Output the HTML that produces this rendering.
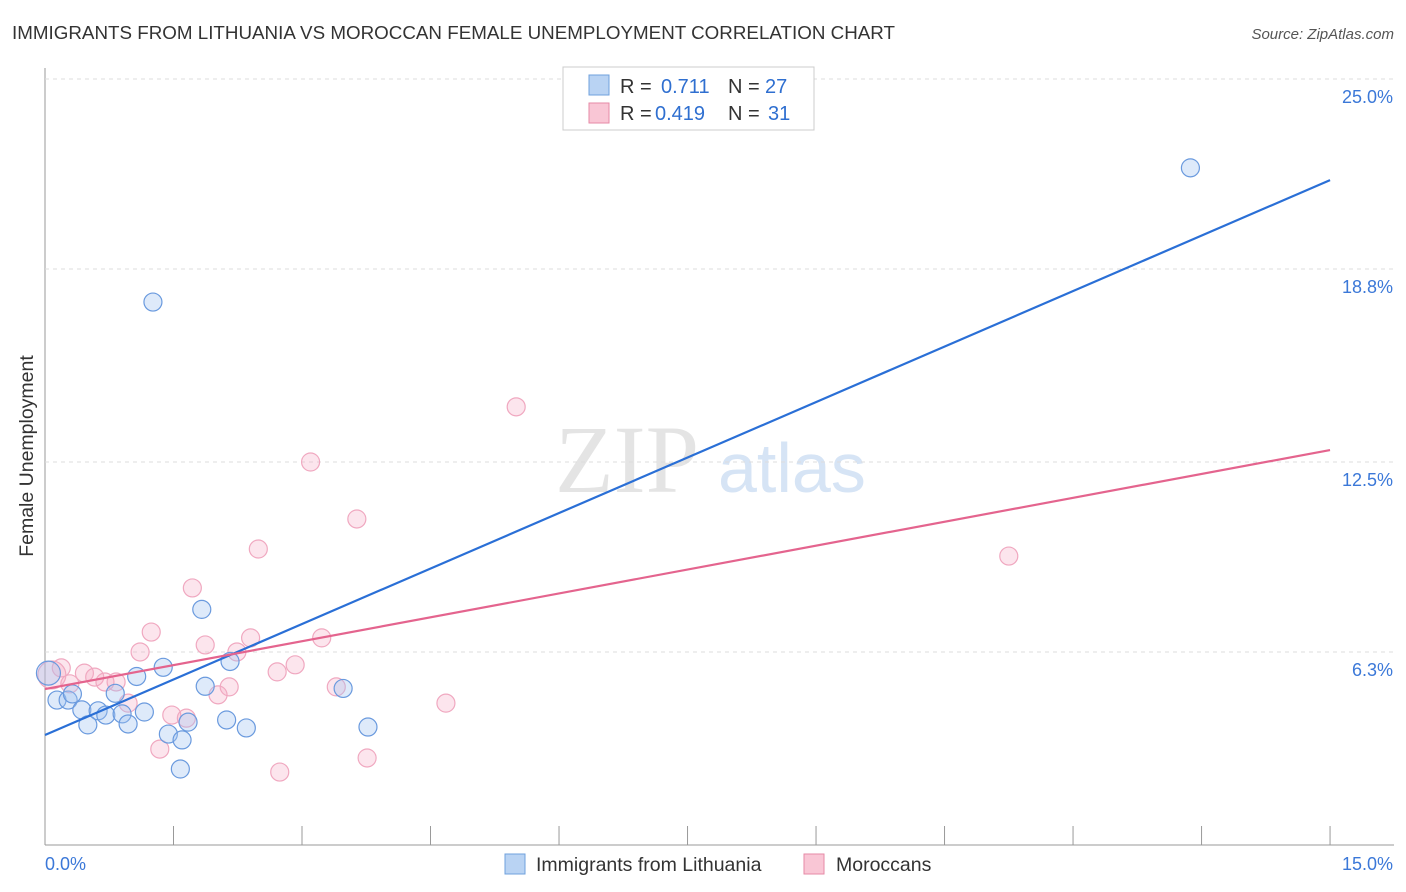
<!DOCTYPE html>
<html><head><meta charset="utf-8"><style>
body{margin:0;background:#fff;font-family:"Liberation Sans",sans-serif;}
svg{display:block}
</style></head><body>
<svg id="chart" width="1406" height="892">
<text x="12" y="39" font-size="18" fill="#333" textLength="883" lengthAdjust="spacingAndGlyphs">IMMIGRANTS FROM LITHUANIA VS MOROCCAN FEMALE UNEMPLOYMENT CORRELATION CHART</text>
<text x="1394" y="39" font-size="15" fill="#555" font-style="italic" text-anchor="end">Source: ZipAtlas.com</text>
<text x="555" y="492" font-size="96" fill="#e4e4e4" font-family="Liberation Serif,serif">ZIP</text>
<text x="718" y="492" font-size="70" fill="#d6e4f5">atlas</text>
<text transform="translate(33,456) rotate(-90)" font-size="19.5" fill="#333" text-anchor="middle">Female Unemployment</text>
<g id="grid"></g><g id="marks"></g>
<g>
<rect x="563" y="67" width="251" height="63" fill="#fff" stroke="#ccc"/>
<rect x="589" y="75" width="20" height="20" fill="#b9d3f3" stroke="#6fa0dc"/>
<rect x="589" y="103" width="20" height="20" fill="#f9c6d5" stroke="#e68aa6"/>
<text x="620" y="93" font-size="20" fill="#333">R = </text><text x="661" y="93" font-size="20" fill="#2f6fd0">0.711</text>
<text x="728" y="93" font-size="20" fill="#333">N = </text><text x="765" y="93" font-size="20" fill="#2f6fd0">27</text>
<text x="620" y="120" font-size="20" fill="#333">R = </text><text x="655" y="120" font-size="20" fill="#2f6fd0">0.419</text>
<text x="728" y="120" font-size="20" fill="#333">N = </text><text x="768" y="120" font-size="20" fill="#2f6fd0">31</text>
</g>
<g>
<rect x="505" y="854" width="20" height="20" fill="#b9d3f3" stroke="#6fa0dc"/>
<text x="536" y="871" font-size="19.5" fill="#333">Immigrants from Lithuania</text>
<rect x="804" y="854" width="20" height="20" fill="#f9c6d5" stroke="#e68aa6"/>
<text x="836" y="871" font-size="19.5" fill="#333">Moroccans</text>
</g>
</svg>
<script>
const yTicks=[25.0,18.8,12.5,6.3];
const yTickLabels=["25.0%","18.8%","12.5%","6.3%"];
const xTicks=[0,1.5,3,4.5,6,7.5,9,10.5,12,13.5,15];
const blueX=[13.37,1.26,1.83,2.16,1.38,1.07,1.87,3.48,0.82,0.14,0.27,0.32,0.43,0.62,0.71,0.90,1.16,0.50,0.97,1.67,2.12,2.35,3.77,1.44,1.60,1.58,0.04];
const blueY=[22.10,17.72,7.69,5.99,5.80,5.50,5.18,5.11,4.95,4.73,4.73,4.93,4.41,4.38,4.24,4.28,4.34,3.92,3.95,4.01,4.08,3.82,3.85,3.62,3.43,2.48,5.61];
const pinkX=[5.50,3.10,3.64,2.49,11.25,1.72,1.24,2.40,3.23,1.11,1.87,2.24,2.92,2.71,0.19,0.46,0.58,0.70,0.83,2.15,3.40,0.97,2.02,1.48,1.65,4.68,1.34,2.74,3.76,0.08,0.29];
const pinkY=[14.30,12.50,10.64,9.66,9.43,8.39,6.95,6.76,6.76,6.30,6.53,6.30,5.88,5.65,5.78,5.61,5.48,5.32,5.32,5.16,5.16,4.63,4.90,4.24,4.14,4.63,3.13,2.38,2.84,5.55,5.26];
const blueTrend=[3.59,21.70];
const pinkTrend=[5.09,12.89];
const NS="http://www.w3.org/2000/svg";
const sx=v=>45+v*85.67, sy=v=>845-v*30.64;
function mk(t,a,p){const e=document.createElementNS(NS,t);for(const k in a)e.setAttribute(k,a[k]);p.appendChild(e);return e;}
const g=document.getElementById('grid'), m=document.getElementById('marks');
let ax=mk('line',{x1:45,y1:68,x2:45,y2:845,stroke:'#999'},g);


let bx=mk('line',{x1:45,y1:845,x2:1394,y2:845,stroke:'#999'},g);


yTicks.forEach((v,i)=>{
 const y=i==0?79:sy(v);
 const l=mk('line',{x1:45,y1:y,x2:1394,y2:y,stroke:'#ddd','stroke-dasharray':'4,4'},g);
 
 
 const t=mk('text',{x:1393,y:y+24,'font-size':18,fill:'#3b78d8','text-anchor':'end'},g);t.textContent=yTickLabels[i];
 
 
});
xTicks.forEach(v=>{
 const l=mk('line',{x1:sx(v),y1:826,x2:sx(v),y2:845,stroke:'#999'},g);
 
 
});
let t0=mk('text',{x:45,y:870,'font-size':18,fill:'#3b78d8'},g);t0.textContent='0.0%';


let t1=mk('text',{x:1393,y:870,'font-size':18,fill:'#3b78d8','text-anchor':'end'},g);t1.textContent='15.0%';


pinkX.forEach((x,i)=>{
 const c=mk('circle',{cx:sx(x),cy:sy(pinkY[i]),r:i==29?14:9,fill:'rgba(246,170,195,0.3)',stroke:'#f0a8c0','stroke-width':1.2},m);
 
 
});
blueX.forEach((x,i)=>{
 const c=mk('circle',{cx:sx(x),cy:sy(blueY[i]),r:i==26?12:9,fill:'rgba(160,195,240,0.35)',stroke:'#6a9ade','stroke-width':1.2},m);
 
 
});
let bl=mk('line',{x1:sx(0),y1:sy(blueTrend[0]),x2:sx(15),y2:sy(blueTrend[1]),stroke:'#2a6fd6','stroke-width':2.2},m);


let pl=mk('line',{x1:sx(0),y1:sy(pinkTrend[0]),x2:sx(15),y2:sy(pinkTrend[1]),stroke:'#e4648e','stroke-width':2.2},m);


</script>
</body></html>
